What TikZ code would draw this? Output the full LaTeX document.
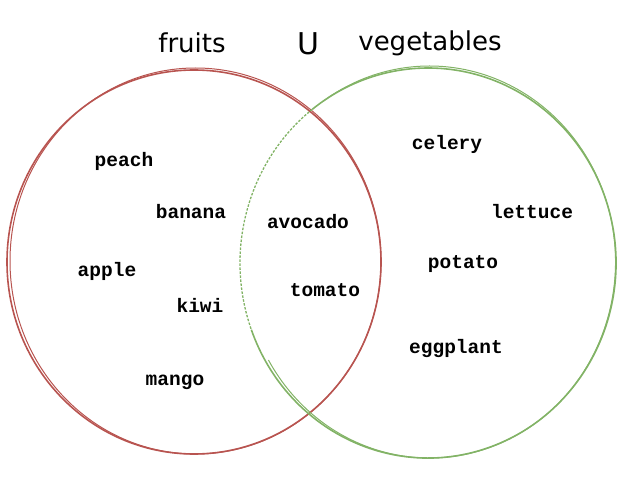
\documentclass[tikz,border=0pt]{standalone}
\usepackage{fontspec}
\setmainfont{DejaVu Sans}
\newfontfamily\wordfont{Liberation Mono}
\usepackage{xcolor}
\definecolor{fruitred}{HTML}{B85450}
\definecolor{veggreen}{HTML}{82B366}

\begin{document}
\begin{tikzpicture}[x=1pt, y=-1pt,
        title/.style={font=\fontsize{26}{30}\selectfont},
        item/.style={font=\wordfont\bfseries\fontsize{19.5}{22}\selectfont},
        fruitline/.style={fruitred, line width=1.6pt},
        vegline/.style={veggreen, line width=1.6pt}]
        \useasboundingbox (0, 0) rectangle (634, 486);

        % fruits circle, drawn twice for the sketchy look
        \draw[fruitline] (194, 262) ellipse [x radius=187, y radius=192];
        \draw[fruitline, line width=1pt] (195.5, 261) ellipse [x radius=185.5, y radius=193];

        % vegetables circle: dashed where it runs under the fruits
        \draw[vegline, line width=1.3pt, dash pattern=on 2.5pt off 1.5pt]
            ([shift={(232:188 and 195)}] 428, 263) arc [start angle=232, end angle=160, x radius=188, y radius=195];
        \draw[vegline]
            ([shift={(160:188 and 195)}] 428, 263) arc [start angle=160, end angle=-128, x radius=188, y radius=195];
        \draw[vegline, line width=1pt]
            ([shift={(150:186 and 196)}] 429.5, 262) arc [start angle=150, end angle=-125, x radius=186, y radius=196];

        \node[title] (fruits) at (192, 43) {fruits};
        \node[title, font=\fontsize{30}{34}\selectfont] (union) at (308, 44) {U};
        \node[title] (vegetables) at (430, 43) {vegetables};

        \node[item] (peach) at (124, 161) {peach};
        \node[item] (banana) at (191, 212) {banana};
        \node[item] (apple) at (107, 271) {apple};
        \node[item] (kiwi) at (200, 305) {kiwi};
        \node[item] (mango) at (175, 382) {mango};

        \node[item] (avocado) at (308, 222) {avocado};
        \node[item] (tomato) at (325, 290) {tomato};

        \node[item] (celery) at (447, 144) {celery};
        \node[item] (lettuce) at (532, 212) {lettuce};
        \node[item] (potato) at (463, 264) {potato};
        \node[item] (eggplant) at (456, 348) {eggplant};
    \end{tikzpicture}
\end{document}
